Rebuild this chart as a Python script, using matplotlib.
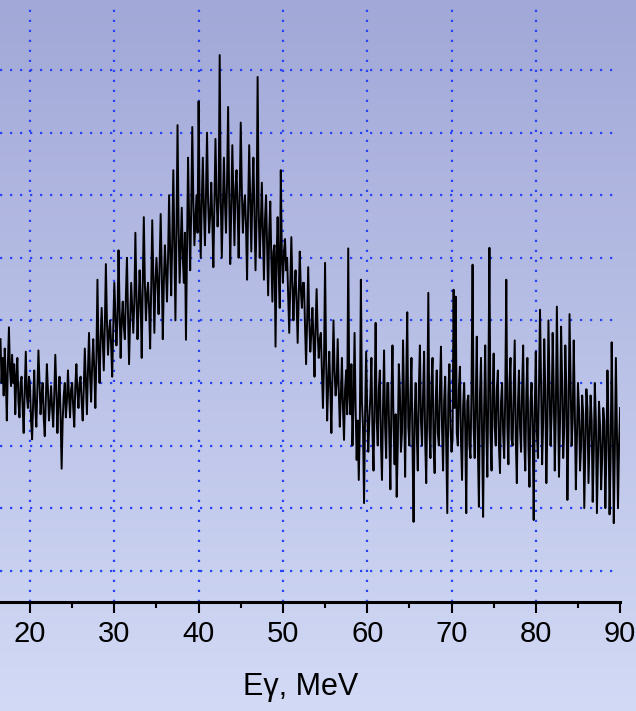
import numpy as np
import matplotlib
matplotlib.use("Agg")
import matplotlib.pyplot as plt
from matplotlib.colors import LinearSegmentedColormap

# spectrum, 0.125 MeV bins from 16.5 to 90 MeV
counts = [
    470, 400, 440, 380, 455, 410, 340, 430, 489, 420, 395, 445, 400, 430, 350, 410,
    440, 370, 345, 400, 410, 360, 320, 390, 450, 380, 360, 410, 395, 340, 310, 370,
    420, 360, 330, 390, 452, 400, 350, 380, 400, 345, 315, 370, 430, 390, 340, 365,
    395, 360, 330, 380, 445, 390, 320, 370, 410, 350, 263, 340, 380, 400, 345, 370,
    420, 380, 345, 390, 400, 360, 330, 395, 430, 385, 360, 400, 410, 370, 340, 390,
    455, 400, 350, 420, 480, 410, 370, 430, 470, 420, 360, 440, 565, 450, 400, 470,
    520, 470, 420, 490, 590, 500, 445, 480, 500, 460, 410, 490, 560, 510, 460, 500,
    612, 520, 440, 500, 530, 490, 470, 540, 600, 510, 430, 500, 560, 520, 480, 530,
    640, 540, 470, 520, 580, 530, 440, 560, 665, 560, 500, 540, 560, 520, 455, 550,
    660, 570, 480, 560, 600, 560, 510, 590, 670, 580, 470, 560, 620, 580, 530, 600,
    700, 610, 540, 630, 740, 620, 500, 640, 812, 650, 560, 620, 680, 600, 560, 640,
    469, 620, 760, 660, 580, 680, 809, 690, 620, 660, 700, 640, 850, 680, 600, 690,
    760, 680, 620, 700, 800, 690, 640, 670, 720, 660, 585, 690, 790, 700, 650, 690,
    924, 700, 600, 680, 760, 690, 640, 720, 841, 700, 590, 680, 780, 700, 620, 710,
    740, 680, 600, 700, 816, 710, 640, 680, 700, 650, 565, 680, 780, 690, 610, 700,
    760, 670, 580, 660, 889, 680, 600, 650, 720, 640, 565, 660, 700, 620, 540, 640,
    690, 600, 530, 610, 620, 458, 600, 665, 580, 520, 740, 600, 560, 610, 630, 580,
    600, 540, 480, 560, 633, 560, 500, 550, 580, 530, 464, 540, 610, 550, 520, 560,
    560, 490, 430, 500, 585, 500, 450, 480, 520, 470, 410, 490, 550, 480, 440, 470,
    480, 420, 360, 430, 592, 440, 340, 400, 450, 390, 320, 410, 500, 420, 380, 400,
    470, 390, 330, 380, 440, 360, 309, 390, 420, 350, 615, 380, 350, 430, 300, 370,
    480, 360, 277, 340, 245, 330, 565, 370, 330, 208, 350, 450, 360, 290, 340, 380,
    440, 320, 260, 370, 496, 340, 300, 390, 420, 310, 245, 360, 452, 330, 280, 400,
    400, 310, 230, 380, 460, 330, 270, 350, 218, 300, 430, 390, 290, 320, 468, 370,
    250, 400, 513, 330, 300, 380, 440, 300, 178, 350, 400, 320, 260, 390, 460, 340,
    300, 380, 450, 310, 240, 360, 544, 330, 280, 400, 440, 300, 256, 370, 420, 320,
    300, 390, 458, 330, 260, 370, 410, 300, 192, 380, 430, 330, 290, 310, 549, 360,
    538, 320, 300, 390, 426, 310, 245, 360, 400, 330, 192, 370, 380, 300, 280, 390,
    589, 330, 280, 370, 474, 300, 202, 380, 440, 320, 186, 360, 460, 330, 250, 400,
    616, 320, 260, 380, 447, 330, 300, 390, 420, 300, 256, 370, 400, 320, 280, 380,
    565, 330, 270, 400, 440, 310, 300, 380, 468, 310, 240, 360, 420, 330, 290, 390,
    460, 310, 260, 380, 440, 300, 234, 370, 400, 330, 181, 360, 450, 320, 280, 390,
    517, 400, 270, 340, 470, 390, 240, 330, 500, 400, 300, 350, 480, 390, 260, 350,
    522, 390, 250, 340, 490, 400, 280, 330, 460, 390, 213, 330, 510, 400, 300, 340,
    468, 360, 230, 310, 400, 360, 260, 300, 380, 350, 200, 300, 390, 360, 240, 310,
    380, 340, 210, 290, 400, 340, 192, 280, 370, 330, 230, 280, 360, 340, 200, 290,
    420, 330, 190, 280, 465, 340, 176, 290, 440, 320, 200, 300, 360,
]
energy = np.linspace(16.5, 90.0, len(counts))

xticks = [20, 30, 40, 50, 60, 70, 80, 90]
yticks = [100, 200, 300, 400, 500, 600, 700, 800, 900]

fnt = ['Liberation Sans', 'DejaVu Sans']

fig = plt.figure(figsize=(6.36, 7.11), dpi=100)

# background gradient over the whole figure
bg = fig.add_axes([0, 0, 1, 1], zorder=0)
cmap = LinearSegmentedColormap.from_list('bg', [(162/255, 168/255, 215/255), (210/255, 218/255, 246/255)])
bg.imshow(np.linspace(0, 1, 256).reshape(-1, 1), aspect='auto', cmap=cmap, extent=[0, 1, 0, 1])
bg.axis('off')

ax = fig.add_axes([0.0, 0.1533, 0.975, 0.834], zorder=1)
ax.patch.set_visible(False)
ax.plot(energy, counts, color='black', lw=1.4, zorder=3)

ax.set_xlim(16.44, 90)
ax.set_ylim(50, 997.5)
ax.set_xticks(xticks)
ax.set_xticks(np.arange(25, 90, 10), minor=True)
ax.set_yticks(yticks)
ax.tick_params(axis='y', left=False, labelleft=False)
ax.tick_params(axis='x', which='major', length=8, width=1.5, pad=5, labelsize=21)
ax.tick_params(axis='x', which='minor', length=4.5, width=1.5)
for lab in ax.get_xticklabels():
    lab.set_family(fnt)

ax.grid(True, which='major', color='#2a44f5', linestyle=(0, (1, 3.5)), lw=1.6, zorder=1)
ax.xaxis.get_gridlines()[-1].set_visible(False)

for s in ['top', 'right', 'left']:
    ax.spines[s].set_visible(False)
ax.spines['bottom'].set_linewidth(2.2)

fig.text(0.472, 0.022, 'E\u03b3, MeV', ha='center', va='baseline', fontsize=22, family=fnt)

plt.savefig('out.png', dpi=100)
